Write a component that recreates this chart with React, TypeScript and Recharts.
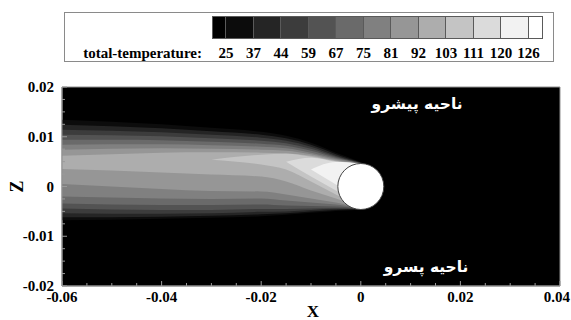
import React from 'react';
import { ComposedChart, Area, XAxis, YAxis, ReferenceArea, ReferenceDot, Label } from 'recharts';

// contour levels shown in the colour bar
const tempLevels = [25, 37, 44, 59, 67, 75, 81, 92, 103, 111, 120, 126];
const levelColors = ['#000000', '#0c0c0c', '#252525', '#3c3c3c', '#535353', '#6a6a6a', '#808080', '#969696', '#adadad', '#c4c4c4', '#dbdbdb', '#f2f2f2', '#ffffff'];

const xs = [-0.06, -0.05, -0.04, -0.03, -0.02, -0.015, -0.01, -0.005, 0, 0.002];

// upper / lower z of the region where T is above each level
const t25Top = [0.0134, 0.013, 0.0125, 0.0118, 0.011, 0.0102, 0.0088, 0.0068, 0.0049, 0.004];
const t25Bot = [-0.0068, -0.0067, -0.0065, -0.0063, -0.006, -0.0057, -0.0053, -0.0049, -0.0046, -0.004];
const t37Top = [0.0124, 0.0121, 0.0117, 0.0111, 0.0104, 0.0097, 0.0084, 0.0065, 0.0048, 0.004];
const t37Bot = [-0.0062, -0.0062, -0.0061, -0.0059, -0.0056, -0.0054, -0.005, -0.0047, -0.0045, -0.004];
const t44Top = [0.0114, 0.0112, 0.0109, 0.0104, 0.0098, 0.0092, 0.008, 0.0062, 0.0047, 0.004];
const t44Bot = [-0.0054, -0.0055, -0.0055, -0.0054, -0.0051, -0.005, -0.0047, -0.0045, -0.0045, -0.004];
const t59Top = [0.0104, 0.0103, 0.0101, 0.0097, 0.0092, 0.0087, 0.0076, 0.006, 0.0047, 0.004];
const t59Bot = [-0.0044, -0.0046, -0.0047, -0.0047, -0.0045, -0.0045, -0.0044, -0.0043, -0.0044, -0.004];
const t67Top = [0.0094, 0.0094, 0.0093, 0.009, 0.0086, 0.0082, 0.0072, 0.0058, 0.0046, 0.004];
const t67Bot = [-0.0034, -0.0036, -0.0037, -0.0037, -0.0036, -0.0038, -0.0039, -0.004, -0.0043, -0.004];
const t75Top = [0.0084, 0.0085, 0.0085, 0.0083, 0.008, 0.0077, 0.0068, 0.0056, 0.0046, 0.004];
const t75Bot = [-0.002, -0.0022, -0.0024, -0.0025, -0.0024, -0.0028, -0.0032, -0.0036, -0.0042, -0.004];
const t81Top = [0.0074, 0.0076, 0.0077, 0.0076, 0.0074, 0.0072, 0.0065, 0.0054, 0.0045, 0.004];
const t81Bot = [0.0005, 0.0, -0.0005, -0.0009, -0.001, -0.0016, -0.0024, -0.0032, -0.0041, -0.004];
const t92Top = [0.0062, 0.0065, 0.0068, 0.0069, 0.0068, 0.0067, 0.0062, 0.0052, 0.0045, 0.004];
const t92Bot = [0.0035, 0.0032, 0.0028, 0.0024, 0.002, 0.001, -0.0008, -0.0024, -0.004, -0.004];
const t103Top = [null, null, null, 0.0054, 0.0064, 0.0066, 0.006, 0.0051, 0.0045, 0.004];
const t103Bot = [null, null, null, 0.0054, 0.0044, 0.0034, 0.001, -0.0016, -0.0038, -0.004];
const t111Top = [null, null, null, null, null, 0.005, 0.0058, 0.005, 0.0045, 0.004];
const t111Bot = [null, null, null, null, null, 0.005, 0.002, -0.0008, -0.0034, -0.004];
const t120Top = [null, null, null, null, null, null, 0.0034, 0.0049, 0.0045, 0.004];
const t120Bot = [null, null, null, null, null, null, 0.0034, 0.0004, -0.0026, -0.0036];

const xTicks = [-0.06, -0.055, -0.05, -0.045, -0.04, -0.035, -0.03, -0.025, -0.02, -0.015, -0.01, -0.005, 0, 0.005, 0.01, 0.015, 0.02, 0.025, 0.03, 0.035, 0.04];
const xMajor = [-0.06, -0.04, -0.02, 0, 0.02, 0.04];
const yTicks = [-0.02, -0.0175, -0.015, -0.0125, -0.01, -0.0075, -0.005, -0.0025, 0, 0.0025, 0.005, 0.0075, 0.01, 0.0125, 0.015, 0.0175, 0.02];
const yMajor = [-0.02, -0.01, 0, 0.01, 0.02];

const bands = [
  { key: 't25', top: t25Top, bot: t25Bot, color: levelColors[1] },
  { key: 't37', top: t37Top, bot: t37Bot, color: levelColors[2] },
  { key: 't44', top: t44Top, bot: t44Bot, color: levelColors[3] },
  { key: 't59', top: t59Top, bot: t59Bot, color: levelColors[4] },
  { key: 't67', top: t67Top, bot: t67Bot, color: levelColors[5] },
  { key: 't75', top: t75Top, bot: t75Bot, color: levelColors[6] },
  { key: 't81', top: t81Top, bot: t81Bot, color: levelColors[7] },
  { key: 't92', top: t92Top, bot: t92Bot, color: levelColors[8] },
  { key: 't103', top: t103Top, bot: t103Bot, color: levelColors[9] },
  { key: 't111', top: t111Top, bot: t111Bot, color: levelColors[10] },
  { key: 't120', top: t120Top, bot: t120Bot, color: levelColors[11] },
];

const data = xs.map((x, i) => {
  const row: Record<string, any> = { x };
  bands.forEach((b) => {
    const lo = b.bot[i];
    const hi = b.top[i];
    row[b.key] = lo == null || hi == null ? null : [lo, hi];
  });
  return row;
});

const serif = '"Liberation Serif", "Times New Roman", serif';
const isMajor = (v: number, list: number[]) => list.some((m) => Math.abs(m - v) < 1e-9);
const fmt = (v: number) => (Math.abs(v) < 1e-9 ? '0' : v.toFixed(2));

const XTick = ({ x, y, payload, index }: any) => {
  const major = isMajor(payload.value, xMajor);
  const last = index === xTicks.length - 1;
  return (
    <g>
      <line x1={x} x2={x} y1={y} y2={y - (major ? 5 : 3)} stroke="#9a9a9a" />
      {major && (
        <text x={last ? x + 10 : x} y={y + 16} textAnchor={last ? 'end' : 'middle'} fontFamily={serif} fontWeight="bold" fontSize={15} fill="#000">
          {fmt(payload.value)}
        </text>
      )}
    </g>
  );
};

const YTick = ({ x, y, payload }: any) => {
  const major = isMajor(payload.value, yMajor);
  return (
    <g>
      <line x1={x} x2={x + (major ? 5 : 3)} y1={y} y2={y} stroke="#9a9a9a" />
      {major && (
        <text x={x - 8} y={y + 5} textAnchor="end" fontFamily={serif} fontWeight="bold" fontSize={15} fill="#000">
          {fmt(payload.value)}
        </text>
      )}
    </g>
  );
};

const ColorBar = () => {
  const boxLeft = (i: number) => 212 + (i === 0 ? 0 : 14 + (i - 1) * 27.5);
  const boxWidth = (i: number) => (i === 0 || i === levelColors.length - 1 ? 14 : 27.5);
  return (
    <div style={{ position: 'absolute', left: 0, top: 0, width: 571, height: 80, fontFamily: serif, fontWeight: 'bold', fontSize: 15 }}>
      <div style={{ position: 'absolute', left: 64, top: 12, width: 488, height: 48, border: '1px solid #8a8a8a' }} />
      {levelColors.map((c, i) => (
        <div
          key={i}
          style={{
            position: 'absolute',
            left: boxLeft(i),
            top: 16,
            width: boxWidth(i),
            height: 23,
            background: c,
            boxSizing: 'border-box',
            border: '1px solid #5a5a5a',
            borderLeftWidth: i === 0 ? 1 : 0,
          }}
        />
      ))}
      <div style={{ position: 'absolute', left: 60, top: 45, width: 142, height: 16, lineHeight: '16px', textAlign: 'right' }}>
        total-temperature:
      </div>
      {tempLevels.map((t, i) => (
        <div key={t} style={{ position: 'absolute', left: 226 + i * 27.5 - 15, top: 45, width: 30, height: 16, lineHeight: '16px', textAlign: 'center' }}>
          {t}
        </div>
      ))}
    </div>
  );
};

const farsiLabel = (value: string) => ({
  value,
  position: 'center' as const,
  fill: '#ffffff',
  fontSize: 15.5,
  fontWeight: 'bold',
  fontFamily: '"DejaVu Sans", sans-serif',
});

export default function App() {
  return (
    <div style={{ position: 'absolute', left: 0, top: 0, width: 571, height: 320, background: '#fff' }}>
      <ColorBar />
      <ComposedChart width={571} height={320} data={data} margin={{ top: 87, right: 11, bottom: 0, left: 0 }} style={{ position: 'absolute', left: 0, top: 0 }}>
        <ReferenceArea x1={-0.06} x2={0.04} y1={-0.02} y2={0.02} fill="#000" fillOpacity={1} stroke="#8f8f8f" ifOverflow="visible" />
        {bands.map((b) => (
          <Area
            key={b.key}
            dataKey={b.key}
            type="monotone"
            fill={b.color}
            fillOpacity={1}
            stroke="none"
            dot={false}
            activeDot={false}
            isAnimationActive={false}
          />
        ))}
        <ReferenceDot x={0} y={0} r={23} fill="#ffffff" stroke="#444" strokeWidth={1} />
        <ReferenceDot x={0.0113} y={0.0166} r={0} label={farsiLabel('ناحیه پیشرو')} />
        <ReferenceDot x={0.0131} y={-0.016} r={0} label={farsiLabel('ناحیه پسرو')} />
        <XAxis
          dataKey="x"
          type="number"
          domain={[-0.06, 0.04]}
          ticks={xTicks}
          interval={0}
          height={34}
          tickSize={0}
          tickMargin={0}
          tick={<XTick />}
          axisLine={{ stroke: '#8f8f8f' }}
          allowDataOverflow
        >
          <Label
            content={({ viewBox }: any) => (
              <text x={viewBox.x + viewBox.width / 2 + 2} y={viewBox.y + 31} textAnchor="middle" fontFamily={serif} fontWeight="bold" fontSize={17} fill="#000">
                X
              </text>
            )}
          />
        </XAxis>
        <YAxis
          type="number"
          domain={[-0.02, 0.02]}
          ticks={yTicks}
          interval={0}
          width={62}
          tickSize={0}
          tickMargin={0}
          tick={<YTick />}
          axisLine={{ stroke: '#8f8f8f' }}
          allowDataOverflow
        >
          <Label
            content={({ viewBox }: any) => {
              const cx = viewBox.x + 17;
              const cy = viewBox.y + viewBox.height / 2;
              return (
                <text x={cx} y={cy} transform={`rotate(-90 ${cx} ${cy})`} dy={6} textAnchor="middle" fontFamily={serif} fontWeight="bold" fontSize={18} fill="#000">
                  Z
                </text>
              );
            }}
          />
        </YAxis>
      </ComposedChart>
    </div>
  );
}
